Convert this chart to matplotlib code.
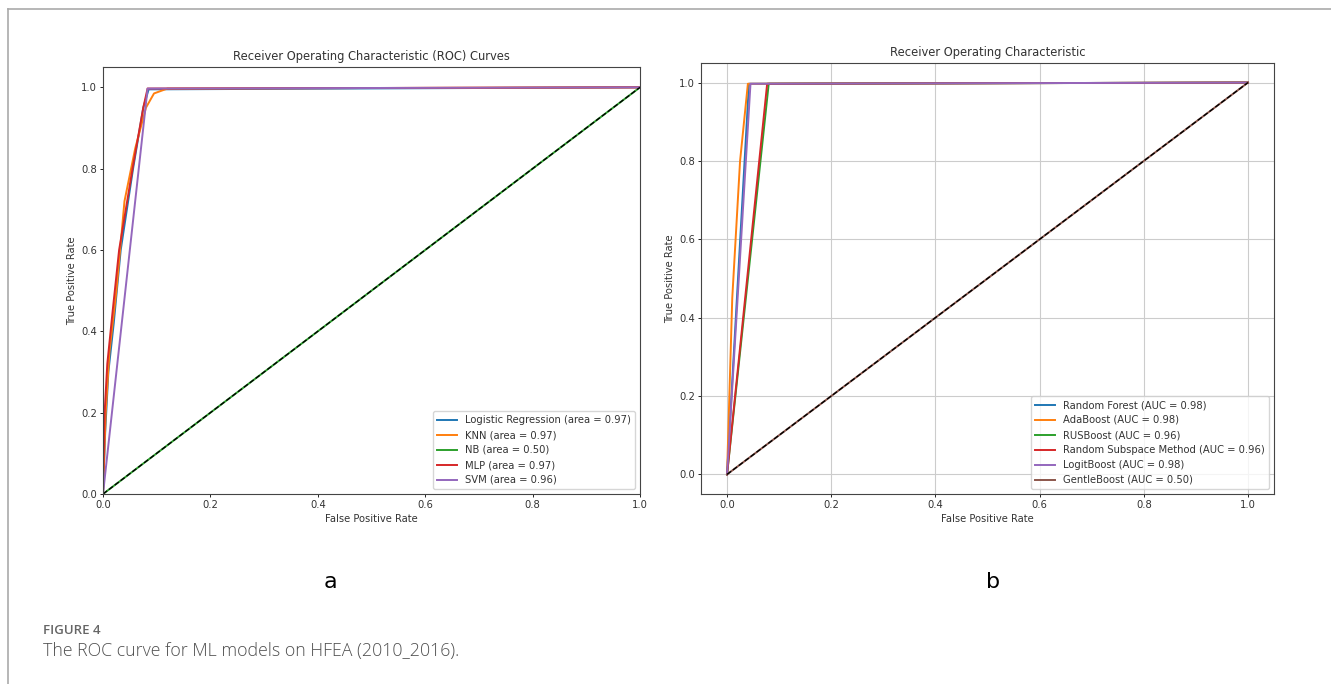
import matplotlib.pyplot as plt
from matplotlib.lines import Line2D

# panel a: ROC points
lr_fpr  = [0, 0.004, 0.01, 0.02, 0.033, 0.056, 0.075, 0.085, 1.0]
lr_tpr  = [0, 0.15, 0.30, 0.42, 0.60, 0.80, 0.95, 0.995, 1.0]
knn_fpr = [0, 0.005, 0.012, 0.025, 0.04, 0.06, 0.08, 0.095, 0.12, 1.0]
knn_tpr = [0, 0.20, 0.35, 0.50, 0.72, 0.85, 0.95, 0.985, 0.997, 1.0]
nb_fpr  = [0, 1.0]
nb_tpr  = [0, 1.0]
mlp_fpr = [0, 0.003, 0.008, 0.018, 0.03, 0.055, 0.075, 0.083, 1.0]
mlp_tpr = [0, 0.20, 0.32, 0.45, 0.60, 0.80, 0.95, 0.997, 1.0]
svm_fpr = [0, 0.083, 1.0]
svm_tpr = [0, 0.997, 1.0]
labels_a = ["Logistic Regression (area = 0.97)", "KNN (area = 0.97)",
            "NB (area = 0.50)", "MLP (area = 0.97)", "SVM (area = 0.96)"]

# panel b
rf_fpr    = [0, 0.042, 1.0]
rf_tpr    = [0, 0.997, 1.0]
ada_fpr   = [0, 0.01, 0.025, 0.04, 1.0]
ada_tpr   = [0, 0.45, 0.80, 0.997, 1.0]
rus_fpr   = [0, 0.08, 1.0]
rus_tpr   = [0, 0.997, 1.0]
rsm_fpr   = [0, 0.077, 1.0]
rsm_tpr   = [0, 0.997, 1.0]
logit_fpr = [0, 0.045, 1.0]
logit_tpr = [0, 0.997, 1.0]
gb_fpr    = [0, 1.0]
gb_tpr    = [0, 1.0]
labels_b = ["Random Forest (AUC = 0.98)", "AdaBoost (AUC = 0.98)",
            "RUSBoost (AUC = 0.96)", "Random Subspace Method (AUC = 0.96)",
            "LogitBoost (AUC = 0.98)", "GentleBoost (AUC = 0.50)"]

fs = 7.2
txt = "#333333"
fig = plt.figure(figsize=(13.31, 6.84), dpi=100)

# page frame lines
fig.add_artist(Line2D([8/1331, 1], [1 - 9/684, 1 - 9/684], color="#aaaaaa", lw=1.2))
fig.add_artist(Line2D([8/1331, 8/1331], [0, 1 - 9/684], color="#aaaaaa", lw=1.2))

# ---- a
ax1 = fig.add_axes([103/1331, 190/684, 537/1331, 427/684])
curves_a = [(lr_fpr, lr_tpr), (knn_fpr, knn_tpr), (nb_fpr, nb_tpr),
            (mlp_fpr, mlp_tpr), (svm_fpr, svm_tpr)]
for i, ((x, y), lab) in enumerate(zip(curves_a, labels_a)):
    ax1.plot(x, y, color=f"C{i}", lw=1.4, label=lab)
ax1.plot([0, 1], [0, 1], "k--", lw=1.0)
ax1.set_xlim(0, 1)
ax1.set_ylim(0, 1.05)
ax1.set_xlabel("False Positive Rate", fontsize=fs, labelpad=3, color=txt)
ax1.set_ylabel("True Positive Rate", fontsize=fs, labelpad=3, color=txt)
ax1.set_title("Receiver Operating Characteristic (ROC) Curves", fontsize=8.3, pad=5, color=txt)
ax1.tick_params(labelsize=fs, length=2.5, width=0.6, pad=2, labelcolor=txt)
ax1.legend(loc="lower right", fontsize=fs, labelcolor=txt)

# ---- b
ax2 = fig.add_axes([701/1331, 190/684, 573/1331, 431/684])
curves_b = [(rf_fpr, rf_tpr), (ada_fpr, ada_tpr), (rus_fpr, rus_tpr),
            (rsm_fpr, rsm_tpr), (logit_fpr, logit_tpr), (gb_fpr, gb_tpr)]
for i, ((x, y), lab) in enumerate(zip(curves_b, labels_b)):
    ax2.plot(x, y, color=f"C{i}", lw=1.4, label=lab)
ax2.plot([0, 1], [0, 1], "k--", lw=1.0)
ax2.set_xlabel("False Positive Rate", fontsize=fs, labelpad=3, color=txt)
ax2.set_ylabel("True Positive Rate", fontsize=fs, labelpad=3, color=txt)
ax2.set_title("Receiver Operating Characteristic", fontsize=8.3, pad=5, color=txt)
ax2.tick_params(labelsize=fs, length=2.5, width=0.6, pad=2, labelcolor=txt)
ax2.grid(True, color="#cccccc", lw=0.8)
ax2.legend(loc="lower right", fontsize=fs, labelcolor=txt)

for ax in (ax1, ax2):
    for s in ax.spines.values():
        s.set_linewidth(0.8)
        s.set_color("#444444")

fig.text(330/1331, 1 - 582/684, "a", fontsize=16, ha="center", va="center")
fig.text(993/1331, 1 - 582/684, "b", fontsize=16, ha="center", va="center")
fig.text(43/1331, 1 - 630/684, "FIGURE 4", fontsize=9.5, color="#666666",
         family="Open Sans", weight="semibold", ha="left", va="center")
fig.text(43/1331, 1 - 651/684, "The ROC curve for ML models on HFEA (2010_2016).",
         fontsize=12.8, color="#505050", family="Open Sans", weight="light",
         ha="left", va="center")

fig.savefig("out.png", dpi=100)
